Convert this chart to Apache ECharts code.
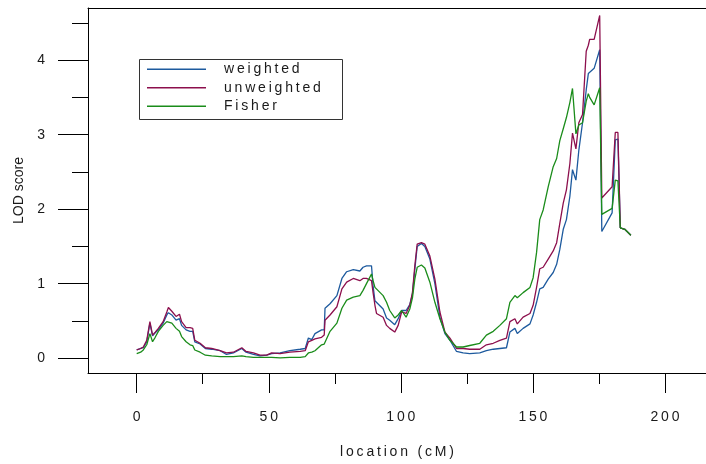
<!DOCTYPE html>
<html>
<head>
<meta charset="utf-8">
<script src="https://cdn.jsdelivr.net/npm/echarts@6/dist/echarts.min.js"></script>
<style>html,body{margin:0;padding:0;background:#fff}#c{width:706px;height:464px}</style>
</head>
<body>
<div id="c"></div>
<script>
// location (cM)
const locations = [0,1.5,2.5,3.8,5,6,7,8.2,10,11.4,12,13.3,14.9,16.2,17,18.7,20.2,21.2,22,24,26,28.4,31.6,34,36.6,39.8,41.4,44.2,46.7,49.2,51.1,54.3,58,61.9,63.8,65,66.3,67.5,70,71,71.3,73.2,75.8,77.7,79.5,82,84.5,85.7,87,88.9,89.5,90.2,90.8,93.3,94.6,95.8,97.7,99,100.3,102,103.4,104.4,105.3,106.2,107.8,109.1,111,112.9,114.8,116.7,118.6,121.1,123.6,126.1,129.9,132.4,135,137.5,140,141.3,143.2,144.1,146.3,148.9,150.1,151.4,152.6,153.9,155.8,157.7,159.0,160.2,161.5,162.7,164.0,165.0,166.3,167.4,168.8,170.2,171.0,171.5,173.2,175.3,176.1,180.0,181.2,182.2,183.1,184.8,187.1];
const weighted = [0.11,0.13,0.14,0.22,0.47,0.30,0.34,0.38,0.47,0.58,0.61,0.58,0.51,0.53,0.44,0.38,0.36,0.36,0.22,0.19,0.13,0.12,0.10,0.05,0.07,0.13,0.08,0.05,0.03,0.04,0.06,0.07,0.10,0.12,0.13,0.27,0.25,0.33,0.38,0.38,0.67,0.73,0.84,1.07,1.16,1.19,1.17,1.22,1.24,1.24,0.97,0.77,0.75,0.66,0.54,0.51,0.45,0.53,0.64,0.64,0.72,0.86,1.19,1.50,1.54,1.50,1.33,1.00,0.55,0.33,0.24,0.09,0.07,0.06,0.07,0.10,0.12,0.13,0.14,0.35,0.40,0.33,0.40,0.46,0.58,0.75,0.93,0.95,1.06,1.15,1.26,1.46,1.73,1.86,2.17,2.53,2.39,2.79,3.16,3.60,3.82,3.84,3.89,4.14,1.70,1.95,2.93,2.94,1.75,1.73,1.65];
const unweighted = [0.11,0.13,0.15,0.24,0.49,0.31,0.35,0.40,0.49,0.62,0.68,0.63,0.56,0.59,0.49,0.41,0.41,0.40,0.24,0.20,0.14,0.13,0.10,0.07,0.08,0.14,0.09,0.07,0.04,0.04,0.07,0.06,0.08,0.09,0.10,0.22,0.24,0.26,0.28,0.31,0.51,0.58,0.69,0.93,1.02,1.07,1.04,1.07,1.07,1.04,0.88,0.71,0.60,0.55,0.44,0.40,0.35,0.44,0.62,0.60,0.71,0.88,1.24,1.53,1.55,1.53,1.37,1.06,0.62,0.35,0.27,0.13,0.13,0.12,0.12,0.18,0.20,0.24,0.27,0.49,0.53,0.46,0.55,0.60,0.71,0.95,1.20,1.22,1.33,1.44,1.55,1.81,2.08,2.26,2.61,3.02,2.81,3.16,3.27,4.12,4.20,4.28,4.28,4.60,2.15,2.30,3.03,3.03,1.75,1.73,1.65];
const fisher = [0.06,0.08,0.11,0.18,0.33,0.22,0.28,0.36,0.44,0.49,0.51,0.47,0.40,0.36,0.29,0.22,0.18,0.17,0.11,0.08,0.04,0.03,0.02,0.02,0.02,0.03,0.02,0.01,0.01,0.01,0.01,0.005,0.01,0.01,0.02,0.07,0.08,0.10,0.18,0.19,0.20,0.36,0.47,0.67,0.78,0.82,0.84,0.91,1.00,1.13,1.04,0.95,0.93,0.84,0.75,0.64,0.54,0.58,0.64,0.55,0.66,0.81,1.06,1.22,1.25,1.21,1.02,0.75,0.53,0.35,0.24,0.15,0.15,0.17,0.20,0.31,0.36,0.44,0.53,0.75,0.84,0.81,0.88,0.95,1.08,1.42,1.86,1.99,2.30,2.57,2.68,2.92,3.08,3.23,3.43,3.62,3.01,3.13,3.16,3.45,3.55,3.50,3.40,3.63,1.93,2.01,2.39,2.38,1.75,1.73,1.65];
const seriesNames = ['weighted','unweighted','Fisher'];
const xMajorTicks = [0,50,100,150,200];
const xMinorTicks = [25,75,125,175];
const yMajorTicks = [0,1,2,3,4];
const yMinorTicks = [0.5,1.5,2.5,3.5,4.5];

const FONT = 'Liberation Sans, Arial, Helvetica, sans-serif';
const spaced = s => String(s).split('').join('\u2009');
const colors = ['#1d5a9e','#8c0f4d','#1a8c1a'];
const X_MIN = -18.44, X_MAX = 215.55, Y_MIN = -0.199, Y_MAX = 4.70;

const chart = echarts.init(document.getElementById('c'), null, {renderer:'canvas'});
const mk = (name, vals, i) => ({
  name, type:'line', xAxisIndex:0, yAxisIndex:0,
  data: locations.map((x,k)=>[x, vals[k]]),
  showSymbol:false, symbol:'none', smooth:false,
  lineStyle:{color:colors[i], width:1.3}, itemStyle:{color:colors[i]},
  animation:false, z: 3+i
});
chart.setOption({
  animation:false,
  grid:{left:88, right:0, top:8, bottom:86},
  legend:{
    data:seriesNames.map(n=>({name:n, icon:'rect'})), orient:'vertical', left:147, top:62, padding:0,
    itemWidth:59, itemHeight:1.6, itemGap:4,
    textStyle:{fontFamily:FONT, fontSize:14, lineHeight:14.5, color:'#1a1a1a', padding:[0,0,0,13]},
    formatter: n => spaced(n), selectedMode:false
  },
  graphic:[{type:'rect', left:137, top:57, shape:{width:203, height:60}, style:{fill:null, stroke:'#333', lineWidth:1}, z:10}],
  xAxis:[
    {type:'value', position:'bottom', min:X_MIN, max:X_MAX,
     axisLine:{show:true, onZero:false, lineStyle:{color:'#000', width:1}},
     axisTick:{show:true, customValues:xMajorTicks, length:20, lineStyle:{color:'#000'}},
     axisLabel:{customValues:xMajorTicks, margin:37, fontFamily:FONT, fontSize:14, color:'#1a1a1a', formatter:v=>spaced(v)},
     splitLine:{show:false},
     name:spaced('location (cM)'), nameLocation:'middle', nameGap:72,
     nameTextStyle:{fontFamily:FONT, fontSize:14, color:'#1a1a1a'}},
    {type:'value', position:'bottom', min:X_MIN, max:X_MAX,
     axisLine:{show:false, onZero:false},
     axisTick:{show:true, customValues:xMinorTicks, length:11, lineStyle:{color:'#000'}},
     axisLabel:{show:false}, splitLine:{show:false}},
    {type:'value', position:'top', min:X_MIN, max:X_MAX,
     axisLine:{show:true, onZero:false, lineStyle:{color:'#000', width:1}},
     axisTick:{show:false}, axisLabel:{show:false}, splitLine:{show:false}}
  ],
  yAxis:[
    {type:'value', position:'left', min:Y_MIN, max:Y_MAX,
     axisLine:{show:true, onZero:false, lineStyle:{color:'#000', width:1}},
     axisTick:{show:true, customValues:yMajorTicks, length:30, lineStyle:{color:'#000'}},
     axisLabel:{customValues:yMajorTicks, margin:43, fontFamily:FONT, fontSize:14, color:'#1a1a1a', padding:[6,0,0,0]},
     splitLine:{show:false},
     name:'LOD score', nameLocation:'middle', nameGap:57, nameRotate:90,
     nameTextStyle:{fontFamily:FONT, fontSize:14, color:'#1a1a1a'}},
    {type:'value', position:'left', min:Y_MIN, max:Y_MAX,
     axisLine:{show:false, onZero:false},
     axisTick:{show:true, customValues:yMinorTicks, length:16, lineStyle:{color:'#000'}},
     axisLabel:{show:false}, splitLine:{show:false}}
  ],
  series:[mk(seriesNames[0], weighted, 0), mk(seriesNames[1], unweighted, 1), mk(seriesNames[2], fisher, 2)]
});
</script>
</body>
</html>
